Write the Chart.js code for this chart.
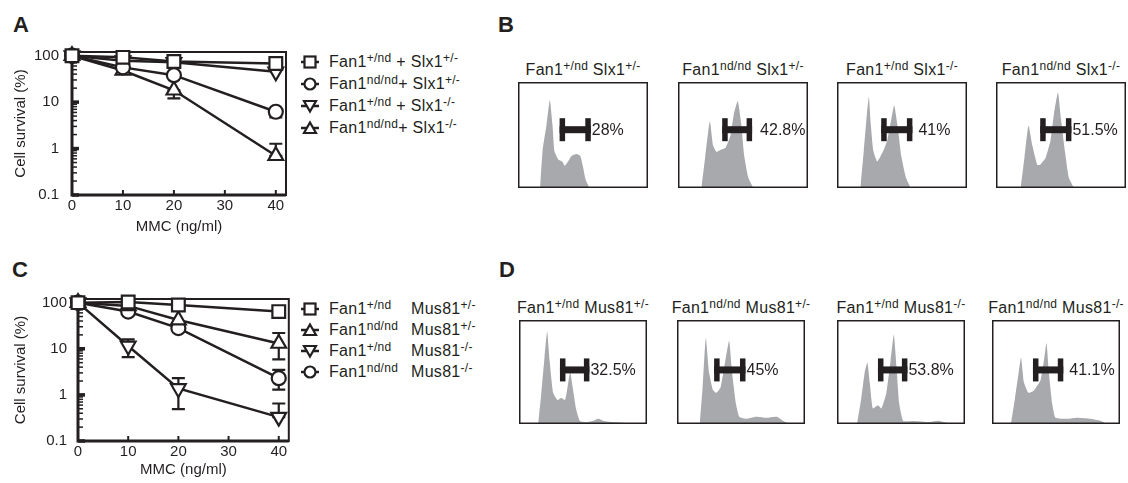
<!DOCTYPE html>
<html>
<head>
<meta charset="utf-8">
<script src="https://cdn.jsdelivr.net/npm/chart.js@4.4.1/dist/chart.umd.min.js"></script>
<style>
body{margin:0;width:1128px;height:483px;position:relative;background:#fff;font-family:"Liberation Sans",Arial,sans-serif;color:#231f20;overflow:hidden}
.abs{position:absolute}
.lab{position:absolute;font-weight:bold;font-size:22px;line-height:22px}
.leg{position:absolute;font-size:16px;letter-spacing:0.3px}
.leg .row{white-space:nowrap;display:flex;align-items:center}
.leg svg{margin-right:9px;flex:none}
.leg .c1{display:inline-block}
sup{font-size:12px;vertical-align:5px;line-height:1}
.ttl{position:absolute;font-size:16px;line-height:18px;white-space:nowrap;transform:translateX(-50%);letter-spacing:0.3px}
</style>
</head>
<body>
<div class="lab" style="left:13px;top:14px">A</div>
<div class="lab" style="left:498px;top:14px">B</div>
<div class="lab" style="left:12px;top:259px">C</div>
<div class="lab" style="left:499px;top:259px">D</div>

<div class="abs" style="left:0;top:0;width:300px;height:240px"><canvas id="survA"></canvas></div>
<div class="abs" style="left:0;top:240px;width:300px;height:243px"><canvas id="survC"></canvas></div>
<div class="leg" id="legA" style="left:300px;top:51px"></div>
<div class="leg" id="legC" style="left:300px;top:298px"></div>
<div id="hists"></div>

<script>
// survival curves
const doses = [0, 10, 20, 40];
const xTicks = [0, 10, 20, 30, 40];
const yMajor = [0.1, 1, 10, 100];
const yTicks = [0.1,0.2,0.3,0.4,0.5,0.6,0.7,0.8,0.9,1,2,3,4,5,6,7,8,9,10,20,30,40,50,60,70,80,90,100];

// panel A (Slx1)
const aSq   = [100, 92, 75, 68];
const aCirc = [100, 56, 38, 6.2];
const aInv  = [100, 78, 72, 45];
const aTri  = [100, 48, 18, 0.7];
const aCircLo = [null, null, null, 4.7];
const aCircHi = [null, null, null, 6.2];
const aTriLo  = [null, 41, 12, 0.7];
const aTriHi  = [null, 48, 18, 1.27];

// panel C (Mus81)
const cSq   = [100, 103, 89, 64];
const cTri  = [100, 85, 42, 13];
const cInv  = [100, 11.5, 1.38, 0.33];
const cCirc = [100, 64, 28, 2.3];
const cTriLo  = [null, null, null, 5.9];
const cTriHi  = [null, null, null, 22];
const cInvLo  = [null, 6.6, 0.49, 0.33];
const cInvHi  = [null, 16, 2.3, 0.65];
const cCircLo = [null, null, 24, 1.3];
const cCircHi = [null, null, 28, 3.5];

// genotypes
const fanG = ['+/nd', 'nd/nd', '+/nd', 'nd/nd'];
const slxG = ['+/-', '+/-', '-/-', '-/-'];
const musG = ['+/-', '+/-', '-/-', '-/-'];

// cell cycle histograms (x, y in % of the box)
const b1X = [17,19,22,24.5,26.5,28,31,34,36,39,41,45,48,50,52,55];
const b1Y = [0,36,60,83,60,35,27,25,21,26,30,32,30,20,8,0];
const b2X = [18,21,24.5,27,29.6,32.7,36.6,40.5,43,46,48.7,51,54,58];
const b2Y = [0,30,63,40,34,36,38,50,70,82,60,30,10,0];
const b3X = [18,20.6,22.7,24.5,26,28,30.9,33.5,36,38.7,41.8,44,47,49.5,53,56.7];
const b3Y = [0,35,65,86,60,35,25,30,36,45,65,78,55,30,10,0];
const b4X = [19,22,25,28,31.7,34,38,42,44.6,47.7,50,53,56,60];
const b4Y = [0,30,59,40,22,22,28,45,70,90,65,35,10,0];
const d1X = [15,17.5,20,22,24,26.7,30,33,36,38.5,40,42,44.5,47.6,53,58,62,66,72,84,89.5];
const d1Y = [0,30,65,89,60,30,23,25,23,40,50,35,15,3,2,3,5,3,2,1,0];
const d2X = [17.8,20,22.5,25,28,30.8,34,37,40.7,43,46,48.6,54,62,70,78,83,88];
const d2Y = [0,35,83,50,33,30,35,55,80,50,20,7,5,7,6,7,3,0];
const d3X = [15.7,19,21.7,23.8,25.6,28,32,34.7,38.6,41.8,44.4,46.5,48.6,51.7,59.5,72.6,80,89.5];
const d3Y = [0,25,50,59,40,15,18,15,30,60,86,55,20,3,3,2,3,0];
const d4X = [14.8,18,20.9,22.7,25,28.5,32.6,37.9,41,42.6,44.4,47,49.6,58.7,66.6,77,85,90];
const d4Y = [0,25,50,64,40,30,32,42,65,78,50,20,6,5,6,5,3,0];

const bGateLo = [32, 34, 34, 34];
const bGateHi = [56, 57, 58, 58];
const dGateLo = [32, 29, 32, 32];
const dGateHi = [55, 53.5, 55, 55.7];
const bPct = ['28%', '42.8%', '41%', '51.5%'];
const dPct = ['32.5%', '45%', '53.8%', '41.1%'];

// layout / style
const ink = '#231f20';
const gray = '#a7a9ac';
const font = '"Liberation Sans", Arial, sans-serif';
const bLeft = [518, 678, 837, 996], bTop = 82, bW = 130, bH = 106, bGateY = 55, bGap = [1, 8, 6, 1];
const dLeft = [519, 677, 837, 992], dTop = 320, dW = 128, dH = 104, dGateY = 52, dGap = [1, 1, 1, 6];

Chart.defaults.font.family = font;
Chart.defaults.color = ink;

function ds(data, style, lo, hi, r) {
    return {
        data: data, pointStyle: style, rotation: style === 'inv' ? 180 : 0,
        errLo: lo, errHi: hi,
        borderColor: ink, borderWidth: 2.5,
        pointBackgroundColor: '#fff', pointBorderColor: ink, pointBorderWidth: 2.2,
        pointRadius: r, pointHoverRadius: r, clip: false, tension: 0
    };
}

const axisDeco = {
    id: 'axisDeco',
    beforeDatasetsDraw(chart) {
        const {ctx, chartArea: a, scales: {x, y}} = chart;
        ctx.save();
        ctx.strokeStyle = ink;
        ctx.lineWidth = 2;
        ctx.strokeRect(a.left, a.top, a.right - a.left, a.bottom - a.top);
        ctx.lineWidth = 3;
        ctx.beginPath();
        ctx.moveTo(a.left, a.top); ctx.lineTo(a.left, a.bottom); ctx.lineTo(a.right, a.bottom);
        ctx.stroke();
        yTicks.forEach(v => {
            const p = y.getPixelForValue(v);
            const major = yMajor.includes(v);
            ctx.lineWidth = major ? 3.5 : 1.5;
            ctx.beginPath(); ctx.moveTo(a.left, p); ctx.lineTo(a.left + (major ? 7 : 5), p); ctx.stroke();
        });
        ctx.lineWidth = 2;
        xTicks.forEach(v => {
            const p = x.getPixelForValue(v);
            ctx.beginPath(); ctx.moveTo(p, a.bottom); ctx.lineTo(p, a.bottom - 5); ctx.stroke();
        });
        // error bars
        chart.data.datasets.forEach(d => {
            doses.forEach((dose, i) => {
                if (d.errLo[i] == null) return;
                const px = x.getPixelForValue(dose);
                const p1 = y.getPixelForValue(d.errLo[i]), p2 = y.getPixelForValue(d.errHi[i]);
                ctx.lineWidth = 2.2;
                ctx.beginPath();
                ctx.moveTo(px, p1); ctx.lineTo(px, p2);
                ctx.moveTo(px - 6.5, p1); ctx.lineTo(px + 6.5, p1);
                ctx.moveTo(px - 6.5, p2); ctx.lineTo(px + 6.5, p2);
                ctx.stroke();
            });
        });
        ctx.restore();
    }
};

function survival(id, sets, padTop, padRight, yW, xH, lblPad) {
    sets.forEach(s => { if (s.pointStyle === 'inv') s.pointStyle = 'triangle'; });
    return new Chart(document.getElementById(id), {
        type: 'line',
        data: {labels: doses, datasets: sets},
        plugins: [axisDeco],
        options: {
            responsive: true, maintainAspectRatio: false, animation: false,
            layout: {padding: {top: padTop, right: padRight, left: 0, bottom: 0}},
            plugins: {legend: {display: false}, tooltip: {enabled: false}},
            scales: {
                x: {
                    type: 'linear', min: 0, max: 42,
                    grid: {display: false, drawTicks: false}, border: {display: false},
                    afterBuildTicks: s => { s.ticks = xTicks.map(v => ({value: v})); },
                    afterFit: s => { s.height = xH; },
                    ticks: {font: {size: 15}, padding: 2, maxRotation: 0, autoSkip: false},
                    title: {display: true, text: 'MMC (ng/ml)', font: {size: 15}, padding: {top: 0, bottom: 4}}
                },
                y: {
                    type: 'logarithmic', min: 0.1, max: 120,
                    grid: {display: false, drawTicks: false}, border: {display: false},
                    afterBuildTicks: s => { s.ticks = yTicks.map(v => ({value: v})); },
                    afterFit: s => { s.width = yW; },
                    ticks: {font: {size: 15}, padding: lblPad, autoSkip: false,
                        callback: v => yMajor.includes(v) ? String(v) : ''},
                    title: {display: true, text: 'Cell survival (%)', font: {size: 15}, padding: {top: 12, bottom: 0}}
                }
            }
        }
    });
}

survival('survA', [
    ds(aSq, 'rect', [], [], 9),
    ds(aCirc, 'circle', aCircLo, aCircHi, 7),
    ds(aInv, 'inv', [], [], 8.5),
    ds(aTri, 'triangle', aTriLo, aTriHi, 8.5)
], 52, 14, 72, 45, 13);

survival('survC', [
    ds(cSq, 'rect', [], [], 9),
    ds(cTri, 'triangle', cTriLo, cTriHi, 8.5),
    ds(cInv, 'inv', cInvLo, cInvHi, 8.5),
    ds(cCirc, 'circle', cCircLo, cCircHi, 7)
], 59, 8, 78, 42, 11);

// legends
function icon(shape) {
    let m = '';
    if (shape === 'rect') m = '<rect x="4.5" y="2.5" width="11" height="11" fill="#fff" stroke="' + ink + '" stroke-width="2.2"/>';
    if (shape === 'circle') m = '<circle cx="10" cy="8" r="5.5" fill="#fff" stroke="' + ink + '" stroke-width="2.2"/>';
    if (shape === 'triangle') m = '<polygon points="10,2.5 16,13 4,13" fill="#fff" stroke="' + ink + '" stroke-width="2.2"/>';
    if (shape === 'inv') m = '<polygon points="10,13.5 16,3 4,3" fill="#fff" stroke="' + ink + '" stroke-width="2.2"/>';
    return '<svg width="20" height="16"><line x1="1" y1="8" x2="19" y2="8" stroke="' + ink + '" stroke-width="2.5"/>' + m + '</svg>';
}
const legA = [['rect', 0], ['circle', 1], ['inv', 2], ['triangle', 3]];
document.getElementById('legA').innerHTML = legA.map(([s, i]) =>
    '<div class="row" style="height:21.9px">' + icon(s) + '<span>Fan1<sup>' + fanG[i] + '</sup>' +
    (fanG[i] === 'nd/nd' ? '' : ' ') + '+ Slx1<sup>' + slxG[i] + '</sup></span></div>').join('');
const legC = [['rect', 0], ['triangle', 1], ['inv', 2], ['circle', 3]];
document.getElementById('legC').innerHTML = legC.map(([s, i]) =>
    '<div class="row" style="height:21px">' + icon(s) + '<span class="c1" style="width:82px">Fan1<sup>' + fanG[i] +
    '</sup></span><span>Mus81<sup>' + musG[i] + '</sup></span></div>').join('');

// histograms
const gatePlugin = {
    id: 'gate',
    afterDatasetsDraw(chart, args, o) {
        const {ctx, scales: {x, y}} = chart;
        const w = chart.width, h = chart.height;
        ctx.save();
        ctx.strokeStyle = ink; ctx.lineWidth = 1.5;
        ctx.strokeRect(0.75, 0.75, w - 1.5, h - 1.5);
        const x1 = x.getPixelForValue(o.lo), x2 = x.getPixelForValue(o.hi), yc = y.getPixelForValue(o.y);
        ctx.fillStyle = ink;
        ctx.fillRect(x1, yc - 3.5, x2 - x1, 7);
        ctx.fillRect(x1, yc - 11.5, 5.5, 23);
        ctx.fillRect(x2 - 5.5, yc - 11.5, 5.5, 23);
        ctx.font = '16px ' + font;
        ctx.textBaseline = 'middle';
        ctx.fillText(o.text, x2 + o.gap, yc + 1);
        ctx.restore();
    }
};

function hist(left, top, w, h, xs, ys, lo, hi, gy, text, gap, title) {
    const wrap = document.createElement('div');
    wrap.className = 'abs';
    wrap.style.cssText = 'left:' + left + 'px;top:' + top + 'px;width:' + w + 'px;height:' + h + 'px';
    const cv = document.createElement('canvas');
    wrap.appendChild(cv);
    document.getElementById('hists').appendChild(wrap);
    const t = document.createElement('div');
    t.className = 'ttl';
    t.style.left = (left + w / 2) + 'px';
    t.style.top = (top - 21.7) + 'px';
    t.innerHTML = title;
    document.body.appendChild(t);
    new Chart(cv, {
        type: 'line',
        data: {datasets: [{
            data: xs.map((v, i) => ({x: v, y: ys[i]})),
            fill: 'origin', backgroundColor: gray, borderWidth: 0, pointRadius: 0, tension: 0.15
        }]},
        plugins: [gatePlugin],
        options: {
            responsive: true, maintainAspectRatio: false, animation: false,
            layout: {padding: 0},
            plugins: {legend: {display: false}, tooltip: {enabled: false},
                gate: {lo: lo, hi: hi, y: gy, text: text, gap: gap}},
            scales: {
                x: {type: 'linear', min: 0, max: 100, display: false},
                y: {min: 0, max: 100, display: false}
            }
        }
    });
}

const bX = [b1X, b2X, b3X, b4X], bY = [b1Y, b2Y, b3Y, b4Y];
const dX = [d1X, d2X, d3X, d4X], dY = [d1Y, d2Y, d3Y, d4Y];
for (let i = 0; i < 4; i++) {
    hist(bLeft[i], bTop, bW, bH, bX[i], bY[i], bGateLo[i], bGateHi[i], bGateY, bPct[i], bGap[i],
        'Fan1<sup>' + fanG[i] + '</sup> Slx1<sup>' + slxG[i] + '</sup>');
    hist(dLeft[i], dTop, dW, dH, dX[i], dY[i], dGateLo[i], dGateHi[i], dGateY, dPct[i], dGap[i],
        'Fan1<sup>' + fanG[i] + '</sup> Mus81<sup>' + musG[i] + '</sup>');
}
</script>
</body>
</html>
